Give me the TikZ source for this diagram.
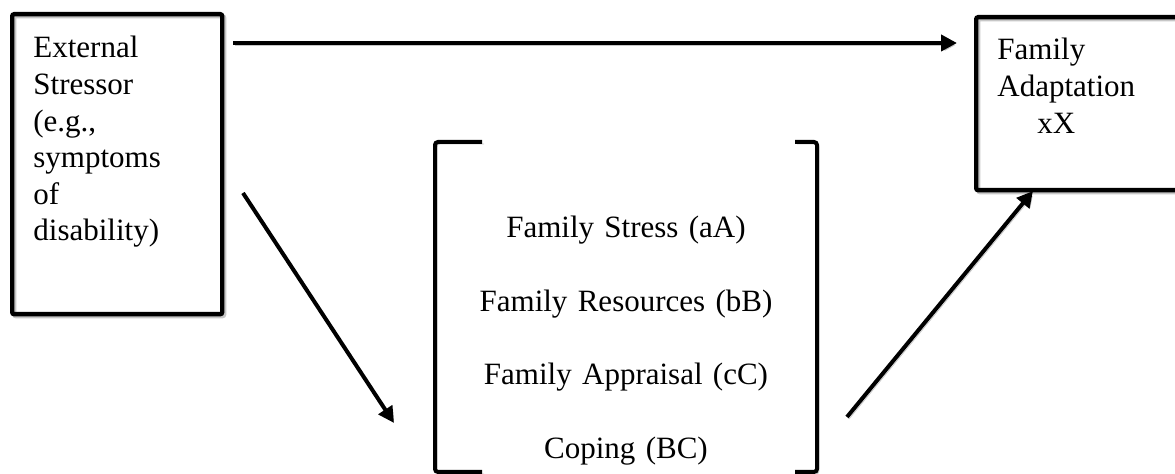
\documentclass[tikz,border=0pt]{standalone}
\usepackage{fontspec}
\setmainfont{Liberation Serif}
\usetikzlibrary{arrows.meta,positioning}
\tikzset{
  lineshadow/.style={preaction={draw=black!22, transform canvas={shift={(1pt,-1pt)}}}},
  box/.style={draw, line width=2.2pt, inner sep=0pt, rounded corners=1pt, lineshadow},
  boxtext/.style={inner sep=0pt, text width=100pt, align=left, anchor=base west,
    font=\fontsize{15.5pt}{18.3pt}\selectfont},
  bracket/.style={line width=2pt, rounded corners=1.5pt, lineshadow},
  link/.style={line width=2pt, -{Triangle[length=8pt,width=8pt]}, lineshadow}
}
\begin{document}
\begin{tikzpicture}[x=0.5pt,y=-0.5pt]
\useasboundingbox (0,0) rectangle (1175,474);
% boxes
\node[box, minimum width=105pt, minimum height=150pt, anchor=north west] (stressor) at (10,12) {};
\node[boxtext] (stressortxt) at (33,58) {External\\Stressor\\(e.g.,\\symptoms\\of\\disability)};
\node[box, minimum width=112pt, minimum height=86.5pt, anchor=north west] (adapt) at (974,15) {};
\node[boxtext] (adapttxt) at (997,60) {Family\\Adaptation\\\hspace*{20pt}xX};
% bracket group
\node[boxtext, text width=200pt, align=center, anchor=base,
  font=\fontsize{15.5pt}{36.75pt}\selectfont] (factors) at (626,238)
  {Family Stress (aA)\\Family Resources (bB)\\Family Appraisal (cC)\\Coping (BC)};
\draw[bracket] (482,142) -- (435,142) -- (435,472) -- (482,472);
\draw[bracket] (795,142) -- (817,142) -- (817,472) -- (795,472);
% arrows
\coordinate (topfrom) at (233,43);
\coordinate (topto) at (957,43);
\coordinate (downfrom) at (243,193);
\coordinate (downto) at (394,423);
\coordinate (upfrom) at (847,417);
\coordinate (upto) at (1033,191);
\draw[link] (topfrom) -- (topto);
\draw[link] (downfrom) -- (downto);
\draw[link] (upfrom) -- (upto);
\end{tikzpicture}
\end{document}
